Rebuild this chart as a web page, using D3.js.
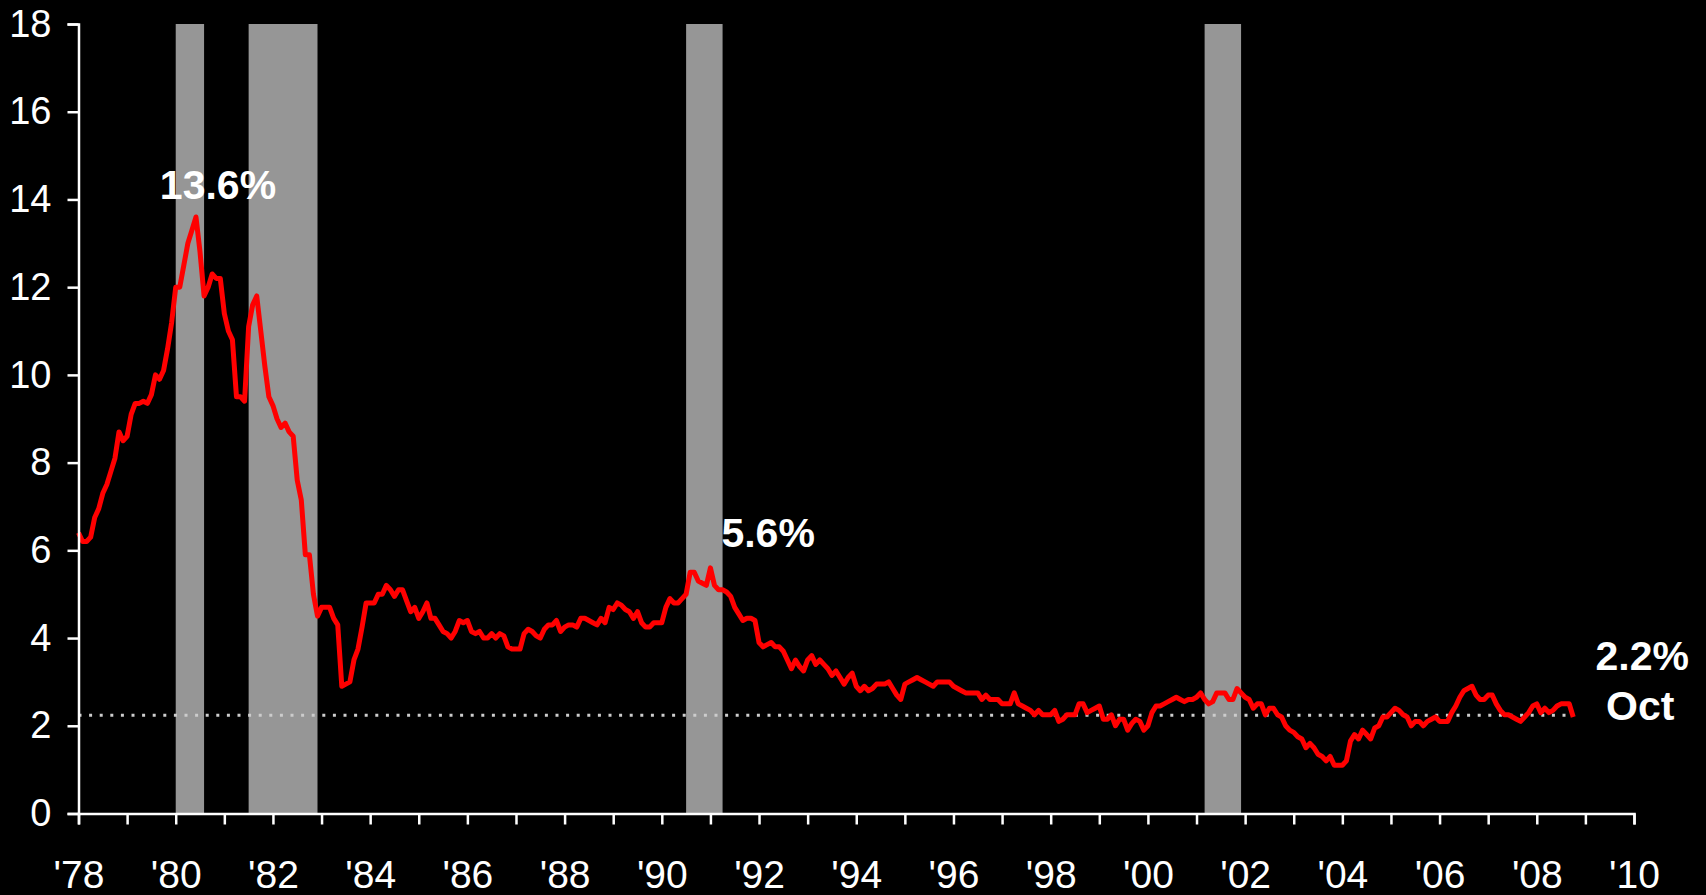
<!DOCTYPE html>
<html>
<head>
<meta charset="utf-8">
<script src="https://cdn.jsdelivr.net/npm/d3@7"></script>
<style>
  html, body { margin: 0; padding: 0; background: #000; }
  #chart { width: 1706px; height: 895px; overflow: hidden; }
  text { font-family: "Liberation Sans", Arial, sans-serif; }
</style>
</head>
<body>
<div id="chart"></div>
<script>
// core CPI, % change from a year earlier, monthly from Jan 1978 to Oct 2008
const startYear = 1978;
const coreCpi = [
  6.4, 6.2, 6.2, 6.3, 6.75, 6.95, 7.3, 7.5, 7.8, 8.1, 8.7, 8.5,          // 1978
  8.6, 9.1, 9.35, 9.35, 9.4, 9.35, 9.55, 10.0, 9.9, 10.1, 10.6, 11.2,    // 1979
  12.0, 12.0, 12.5, 13.0, 13.3, 13.6, 12.8, 11.8, 12.0, 12.3, 12.2, 12.2, // 1980
  11.4, 11.0, 10.8, 9.5, 9.5, 9.4, 11.1, 11.6, 11.8, 11.0, 10.2, 9.5,    // 1981
  9.3, 9.0, 8.8, 8.9, 8.7, 8.6, 7.6, 7.15, 5.9, 5.9, 5.0, 4.5,           // 1982
  4.7, 4.7, 4.7, 4.45, 4.3, 2.9, 2.95, 3.0, 3.5, 3.75, 4.25, 4.8,        // 1983
  4.8, 4.8, 5.0, 5.0, 5.2, 5.1, 4.95, 5.1, 5.1, 4.85, 4.6, 4.7,          // 1984
  4.45, 4.6, 4.8, 4.45, 4.45, 4.3, 4.15, 4.1, 4.0, 4.15, 4.4, 4.35,      // 1985
  4.4, 4.15, 4.1, 4.15, 4.0, 4.0, 4.1, 4.0, 4.1, 4.05, 3.8, 3.75,        // 1986
  3.75, 3.75, 4.1, 4.2, 4.15, 4.05, 4.0, 4.2, 4.3, 4.3, 4.4, 4.15,       // 1987
  4.25, 4.3, 4.3, 4.25, 4.45, 4.45, 4.4, 4.35, 4.3, 4.45, 4.35, 4.7,     // 1988
  4.65, 4.8, 4.75, 4.65, 4.6, 4.45, 4.6, 4.35, 4.25, 4.25, 4.35, 4.35,   // 1989
  4.35, 4.7, 4.9, 4.8, 4.8, 4.9, 5.0, 5.5, 5.5, 5.3, 5.25, 5.2,          // 1990
  5.6, 5.2, 5.1, 5.1, 5.05, 4.95, 4.7, 4.55, 4.4, 4.45, 4.45, 4.4,       // 1991
  3.9, 3.8, 3.85, 3.9, 3.8, 3.8, 3.7, 3.5, 3.3, 3.5, 3.35, 3.25,         // 1992
  3.5, 3.6, 3.4, 3.5, 3.4, 3.3, 3.15, 3.25, 3.1, 2.95, 3.1, 3.2,         // 1993
  2.9, 2.8, 2.9, 2.8, 2.85, 2.95, 2.95, 2.95, 3.0, 2.85, 2.7, 2.6,       // 1994
  2.95, 3.0, 3.05, 3.1, 3.05, 3.0, 2.95, 2.9, 3.0, 3.0, 3.0, 3.0,        // 1995
  2.9, 2.85, 2.8, 2.75, 2.75, 2.75, 2.75, 2.6, 2.7, 2.6, 2.6, 2.6,       // 1996
  2.5, 2.5, 2.5, 2.75, 2.5, 2.45, 2.4, 2.35, 2.25, 2.35, 2.25, 2.25,     // 1997
  2.25, 2.35, 2.1, 2.15, 2.25, 2.25, 2.25, 2.5, 2.5, 2.3, 2.35, 2.4,     // 1998
  2.45, 2.15, 2.15, 2.25, 2.0, 2.15, 2.15, 1.9, 2.05, 2.15, 2.1, 1.9,    // 1999
  2.0, 2.3, 2.45, 2.45, 2.5, 2.55, 2.6, 2.65, 2.6, 2.55, 2.6, 2.6,       // 2000
  2.65, 2.75, 2.6, 2.5, 2.55, 2.75, 2.75, 2.75, 2.6, 2.6, 2.85, 2.75,    // 2001
  2.65, 2.6, 2.4, 2.5, 2.5, 2.25, 2.4, 2.4, 2.25, 2.2, 2.0, 1.9,         // 2002
  1.85, 1.75, 1.7, 1.5, 1.6, 1.5, 1.35, 1.3, 1.2, 1.3, 1.1, 1.1,         // 2003
  1.1, 1.2, 1.65, 1.8, 1.7, 1.9, 1.8, 1.7, 1.95, 2.0, 2.2, 2.2,          // 2004
  2.3, 2.4, 2.35, 2.25, 2.2, 2.0, 2.1, 2.1, 2.0, 2.1, 2.15, 2.2,         // 2005
  2.1, 2.1, 2.1, 2.3, 2.45, 2.65, 2.8, 2.85, 2.9, 2.7, 2.6, 2.6,         // 2006
  2.7, 2.7, 2.5, 2.35, 2.25, 2.25, 2.2, 2.15, 2.1, 2.2, 2.3, 2.45,       // 2007
  2.5, 2.3, 2.4, 2.3, 2.35, 2.45, 2.5, 2.5, 2.5, 2.2                     // 2008
];

// recessions: [start year, start month, end year, end month]
const recessions = [
  [1980, 1, 1980, 7],
  [1981, 7, 1982, 11],
  [1990, 7, 1991, 3],
  [2001, 3, 2001, 11]
];

const yTicks = [0, 2, 4, 6, 8, 10, 12, 14, 16, 18];
const xYears = d3.range(1978, 2011);
const latestLevel = 2.24;
const peakLabels = ["13.6%", "5.6%"];
const latestLabels = ["2.2%", "Oct"];

(function () {
    const margin = { top: 24, left: 78.5 },
        width = 1555.5,
        height = 789.5;

    const svg = d3.select("#chart")
        .append("svg")
        .attr("width", 1706)
        .attr("height", 895)
        .style("background", "#000");

    const g = svg.append("g")
        .attr("transform", `translate(${margin.left},${margin.top})`);

    const data = coreCpi.map((v, i) => ({ t: startYear + i / 12, value: v }));

    const x = d3.scaleLinear()
        .domain([1978, 2010])
        .range([0, width]);
    const y = d3.scaleLinear()
        .domain([0, 18])
        .range([height, 0]);

    // recession bars
    g.append("g")
        .selectAll("rect")
        .data(recessions)
        .join("rect")
        .attr("x", d => x(d[0] + (d[1] - 1) / 12))
        .attr("width", d => x(d[2] + d[3] / 12) - x(d[0] + (d[1] - 1) / 12))
        .attr("y", y(18))
        .attr("height", y(0) - y(18))
        .attr("fill", "#969696");

    // dotted reference line at the latest reading
    g.append("path")
        .datum(data)
        .attr("fill", "none")
        .attr("stroke", "#cccccc")
        .attr("stroke-width", 3)
        .attr("stroke-dasharray", "3 7.6")
        .attr("d", d3.line().x(d => x(d.t)).y(() => y(latestLevel)));

    // core CPI line
    g.append("path")
        .datum(data)
        .attr("fill", "none")
        .attr("stroke", "#ff0000")
        .attr("stroke-width", 5)
        .attr("stroke-linejoin", "round")
        .attr("d", d3.line().x(d => x(d.t)).y(d => y(d.value)));

    // axes
    const yAxis = g.append("g")
        .call(d3.axisLeft(y).tickValues(yTicks).tickSize(11).tickPadding(16));
    const xAxis = g.append("g")
        .attr("transform", `translate(0,${height})`)
        .call(d3.axisBottom(x).tickValues(xYears).tickSize(11).tickPadding(36)
            .tickFormat(d => d % 2 === 0 ? "'" + String(d).slice(2) : ""));

    [yAxis, xAxis].forEach(a => {
        a.select(".domain").attr("stroke", "#fff").attr("stroke-width", 2.5);
        a.selectAll(".tick line").attr("stroke", "#fff").attr("stroke-width", 2.5);
        a.selectAll("text").attr("fill", "#fff");
    });
    yAxis.selectAll("text").style("font-size", "38px");
    xAxis.selectAll("text").style("font-size", "39px");

    // annotations
    const peak1 = data.find(d => d.value === d3.max(data, e => e.value));
    const peak2 = data.filter(d => d.t > 1990).reduce((a, b) => b.value > a.value ? b : a);
    const last = data[data.length - 1];

    const label = (txt, px, py, anchor) => g.append("text")
        .attr("x", px).attr("y", py)
        .attr("text-anchor", anchor)
        .attr("fill", "#fff")
        .style("font-size", "41px")
        .style("font-weight", "bold")
        .text(txt);

    label(peakLabels[0], x(peak1.t) + 22, y(peak1.value) - 18, "middle");
    label(peakLabels[1], x(peak2.t) + 11, y(peak2.value) - 21, "start");
    label(latestLabels[0], x(last.t) + 69, y(last.value) - 47, "middle");
    label(latestLabels[1], x(last.t) + 67, y(last.value) + 3, "middle");
})();
</script>
</body>
</html>
